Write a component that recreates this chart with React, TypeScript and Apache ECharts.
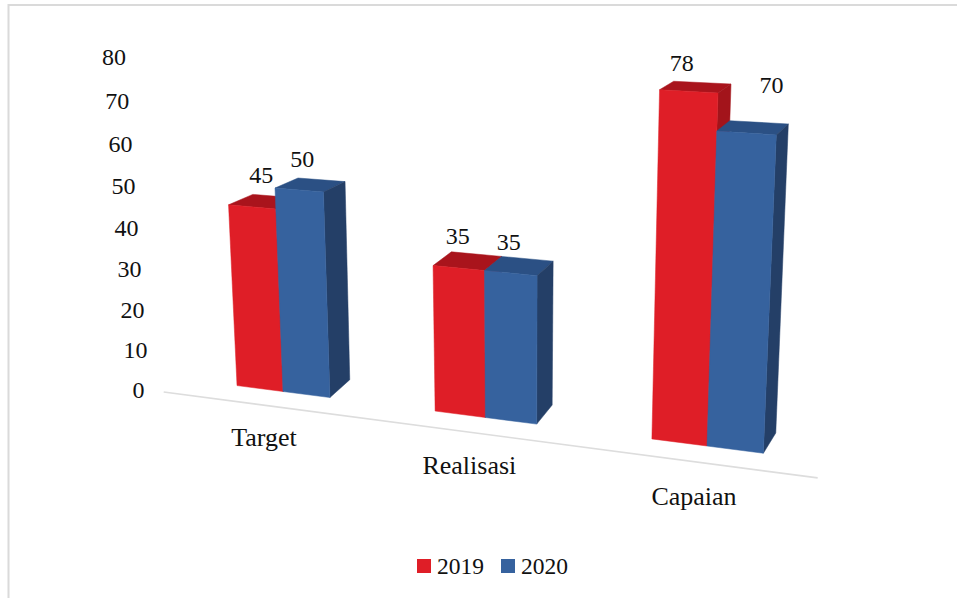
import React, { useEffect, useRef } from "react";
import * as echarts from "echarts";

// Chart data
const categories = ["Target", "Realisasi", "Capaian"];
const years = ["2019", "2020"];
const values2019 = [45, 35, 78];
const values2020 = [50, 35, 70];
const valueTicks = [0, 10, 20, 30, 40, 50, 60, 70, 80];

// Colours of each bar's faces
const faces = [
  { front: "#DF1E27", top: "#A9141C", side: "#A3141B" },
  { front: "#36629E", top: "#2B5084", side: "#243F67" },
];

const FONT = '"Liberation Serif", serif';
const TEXT = "#111111";
const BAR_SPAN = 0.24; // width of one bar, in category bands

// Camera: where points of the floor/value plane land, at the bars' front and back
const FRONT_ANCHORS = [
  { u: 0, v: 0, x: 283, y: 391.5 },
  { u: 2, v: 0, x: 707, y: 446 },
  { u: 0, v: 50, x: 275, y: 188 },
  { u: 2, v: 78, x: 718, y: 93 },
];
const BACK_ANCHORS = [
  { u: 0, v: 0, x: 304, y: 374 },
  { u: 2, v: 0, x: 720, y: 426 },
  { u: 0, v: 50, x: 298, y: 178 },
  { u: 2, v: 78, x: 731, y: 84 },
];

// Tick labels run along their own slanted, slightly foreshortened line
const TICK_LINE = { x0: 138.5, y0: 390, x1: 114, y1: 57, foreshorten: 0.947 };
const BASELINE = { from: -0.53, to: 2.505, depth: -0.8 };
const CATEGORY_LABEL = { dx: -19, dy: 45.5, driftX: 3, driftY: 2.25 };
const VALUE_LABEL_OFFSETS = [
  [[9, -32], [-1, -32], [-7, -28]],
  [[3, -31], [-2, -31], [25, -48]],
];

type Pt = [number, number];

// Solves the 8 coefficients of a plane-to-plane projective map
function fitProjective(src: Pt[], dst: Pt[]) {
  const m: number[][] = [];
  src.forEach(([x, y], i) => {
    const [X, Y] = dst[i];
    m.push([x, y, 1, 0, 0, 0, -x * X, -y * X, X]);
    m.push([0, 0, 0, x, y, 1, -x * Y, -y * Y, Y]);
  });
  for (let c = 0; c < 8; c++) {
    let p = c;
    for (let r = c + 1; r < 8; r++) if (Math.abs(m[r][c]) > Math.abs(m[p][c])) p = r;
    [m[c], m[p]] = [m[p], m[c]];
    for (let r = 0; r < 8; r++) {
      if (r === c) continue;
      const f = m[r][c] / m[c][c];
      for (let k = c; k < 9; k++) m[r][k] -= f * m[c][k];
    }
  }
  const h = m.map((row, i) => row[8] / row[i]);
  return ([x, y]: Pt): Pt => {
    const w = h[6] * x + h[7] * y + 1;
    return [(h[0] * x + h[1] * y + h[2]) / w, (h[3] * x + h[4] * y + h[5]) / w];
  };
}

// Builds the projection from the hidden grid's pixels, using the axes' own scales
function makeProjection(api: any) {
  const gridPoint = (u: number, v: number): Pt => api.coord([u, v]);
  const fit = (anchors: typeof FRONT_ANCHORS) =>
    fitProjective(
      anchors.map((a) => gridPoint(a.u, a.v)),
      anchors.map((a) => [a.x, a.y] as Pt)
    );
  const front = fit(FRONT_ANCHORS);
  const back = fit(BACK_ANCHORS);
  return (p: Pt, depth: number): Pt => {
    const a = front(p);
    const b = back(p);
    return [a[0] + (b[0] - a[0]) * depth, a[1] + (b[1] - a[1]) * depth];
  };
}

const label = (x: number, y: number, text: string, fontSize = 24) => ({
  type: "text",
  silent: true,
  style: { x, y, text, fontFamily: FONT, fontSize, fill: TEXT, align: "center", verticalAlign: "middle" },
});

const polygon = (points: Pt[], fill: string) => ({
  type: "polygon",
  silent: true,
  shape: { points },
  style: { fill, stroke: fill, lineWidth: 0.5 },
});

// One bar with its top and side faces, plus its value label
function renderBar(seriesIndex: number) {
  return (params: any, api: any) => {
    const project = makeProjection(api);
    const cat = api.value(0);
    const val = api.value(1);
    const band = api.size([1, 0])[0];
    const [cx, baseY] = api.coord([cat, 0]);
    const topY = api.coord([cat, val])[1];
    const x0 = cx + (seriesIndex === 0 ? -BAR_SPAN : 0) * band;
    const x1 = x0 + BAR_SPAN * band;

    const fTL = project([x0, topY], 0);
    const fTR = project([x1, topY], 0);
    const fBL = project([x0, baseY], 0);
    const fBR = project([x1, baseY], 0);
    const bTL = project([x0, topY], 1);
    const bTR = project([x1, topY], 1);
    const bBR = project([x1, baseY], 1);

    const colour = faces[seriesIndex];
    const [ox, oy] = VALUE_LABEL_OFFSETS[seriesIndex][params.dataIndex];
    return {
      type: "group",
      children: [
        polygon([bTL, bTR, fTR, fTL], colour.top),
        polygon([fTR, bTR, bBR, fBR], colour.side),
        polygon([fTL, fTR, fBR, fBL], colour.front),
        label((fTL[0] + fTR[0]) / 2 + ox, (fTL[1] + fTR[1]) / 2 + oy, String(val)),
      ],
    };
  };
}

function renderBaseline(_params: any, api: any) {
  const project = makeProjection(api);
  const band = api.size([1, 0])[0];
  const [x, y] = api.coord([0, 0]);
  const a = project([x + BASELINE.from * band, y], BASELINE.depth);
  const b = project([x + BASELINE.to * band, y], BASELINE.depth);
  return {
    type: "line",
    silent: true,
    shape: { x1: a[0], y1: a[1], x2: b[0], y2: b[1] },
    style: { stroke: "#DDDDDD", lineWidth: 1.6 },
  };
}

function renderTickLabel(_params: any, api: any) {
  const v = api.value(1);
  const y0 = api.coord([0, valueTicks[0]])[1];
  const y1 = api.coord([0, valueTicks[valueTicks.length - 1]])[1];
  const t = (y0 - api.coord([0, v])[1]) / (y0 - y1);
  const k = TICK_LINE.foreshorten;
  const s = (k * t) / (1 + (k - 1) * t);
  return label(
    TICK_LINE.x0 + (TICK_LINE.x1 - TICK_LINE.x0) * s,
    TICK_LINE.y0 + (TICK_LINE.y1 - TICK_LINE.y0) * s,
    String(v)
  );
}

function renderCategoryLabel(params: any, api: any) {
  const project = makeProjection(api);
  const i = params.dataIndex;
  const p = project(api.coord([i, 0]), 0);
  return label(
    p[0] + CATEGORY_LABEL.dx + CATEGORY_LABEL.driftX * i,
    p[1] + CATEGORY_LABEL.dy + CATEGORY_LABEL.driftY * i,
    categories[i],
    26
  );
}

export default function App() {
  const ref = useRef<HTMLDivElement>(null);

  useEffect(() => {
    const chart = echarts.init(ref.current!, undefined, { renderer: "svg" });
    const overlay = (name: string, data: number[][], renderItem: any) => ({
      type: "custom",
      name,
      data,
      renderItem,
      encode: { x: 0, y: 1 },
      clip: false,
      silent: true,
    });
    chart.setOption({
      animation: false,
      backgroundColor: "#FFFFFF",
      grid: { left: 140, right: 140, top: 60, bottom: 200 },
      xAxis: { type: "category", data: categories, show: false },
      yAxis: { type: "value", min: 0, max: 80, interval: 10, show: false },
      legend: {
        data: years,
        left: 412,
        top: 549,
        icon: "rect",
        itemWidth: 14,
        itemHeight: 14,
        itemGap: 17,
        selectedMode: false,
        textStyle: { fontFamily: FONT, fontSize: 23.5, color: TEXT, padding: [2, 0, 0, 1] },
      },
      graphic: [
        { type: "line", silent: true, shape: { x1: 8, y1: 5, x2: 957, y2: 5 }, style: { stroke: "#DADADA", lineWidth: 2 } },
        { type: "line", silent: true, shape: { x1: 8.5, y1: 4, x2: 8.5, y2: 598 }, style: { stroke: "#DADADA", lineWidth: 2 } },
      ],
      series: [
        overlay("baseline", [[0, 0]], renderBaseline),
        overlay("valueTicks", valueTicks.map((t) => [0, t]), renderTickLabel),
        overlay("categoryLabels", categories.map((_, i) => [i, 0]), renderCategoryLabel),
        {
          ...overlay(years[0], values2019.map((v, i) => [i, v]), renderBar(0)),
          itemStyle: { color: faces[0].front },
        },
        {
          ...overlay(years[1], values2020.map((v, i) => [i, v]), renderBar(1)),
          itemStyle: { color: faces[1].front },
        },
      ],
    });
    return () => chart.dispose();
  }, []);

  return <div ref={ref} style={{ position: "absolute", left: 0, top: 0, width: 957, height: 598 }} />;
}
